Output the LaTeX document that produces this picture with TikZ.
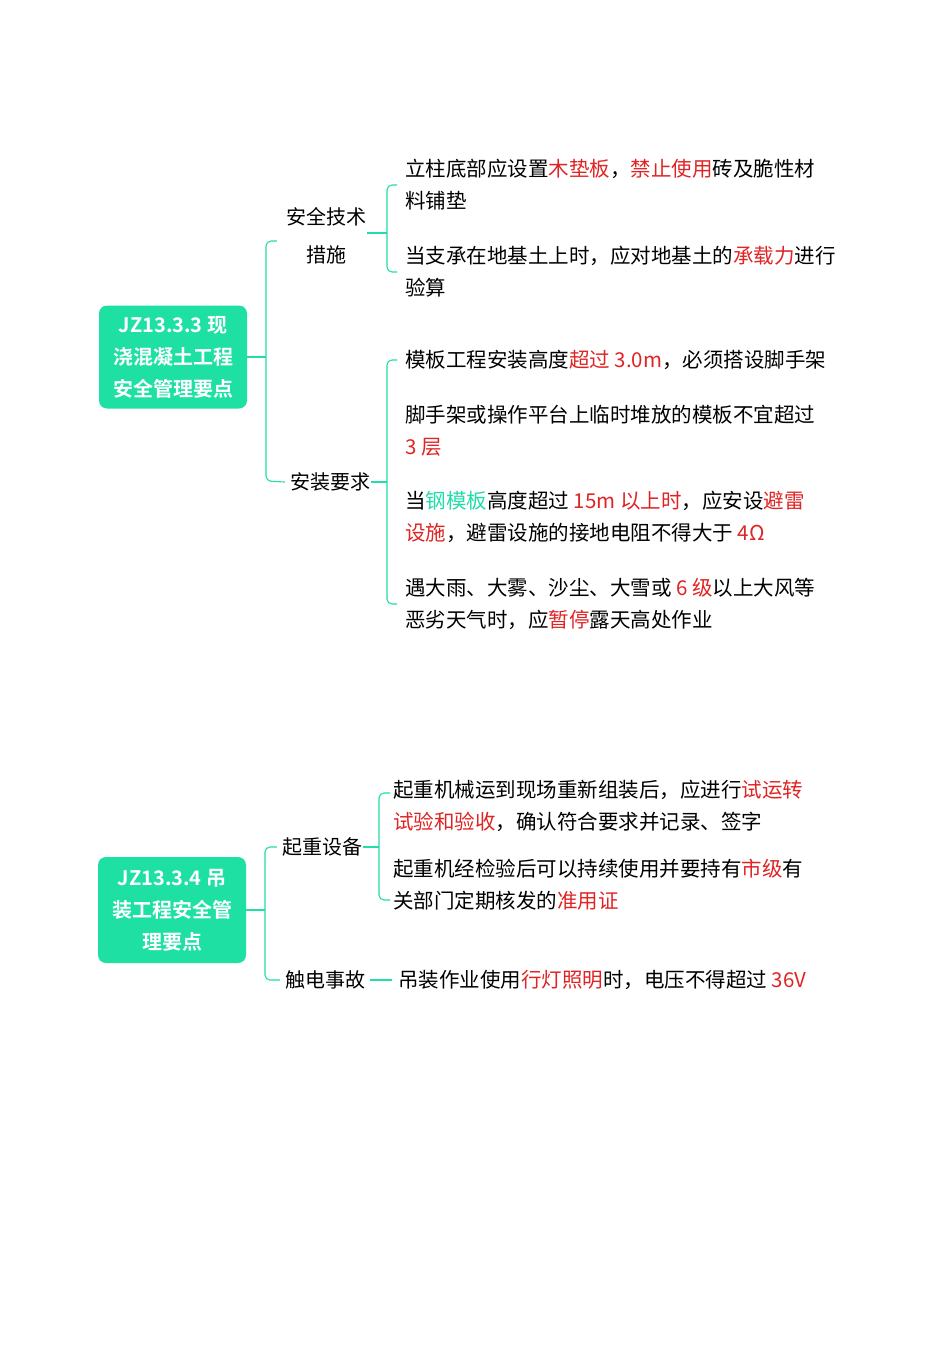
\documentclass[tikz,border=0pt]{standalone}
\usepackage{fontspec}
\setmainfont{Noto Sans CJK SC}
\newfontfamily\bfcjk{Noto Sans CJK SC Bold}
\definecolor{hred}{HTML}{E02424}
\definecolor{teal}{HTML}{22DDA8}
\definecolor{boxg}{HTML}{1EE0A3}
\newcommand\hl[1]{\textcolor{hred}{#1}}
\newcommand\tl[1]{\textcolor{teal}{#1}}
\begin{document}
\begin{tikzpicture}[x=1pt,y=-1pt,
  rootbox/.style={fill=boxg,rounded corners=8,text=white,font=\bfcjk\fontsize{20}{32}\selectfont,align=center,minimum width=148,inner sep=2},
  lab/.style={font=\fontsize{20}{38}\selectfont,align=center,inner sep=1},
  leaf/.style={anchor=west,font=\fontsize{20.5}{32}\selectfont,align=left,inner sep=0},
  br/.style={draw=teal,line width=1.1,rounded corners=5}]
\useasboundingbox[fill=white] (0,0) rectangle (950,1365);
% tree 1
\node[rootbox,minimum height=103] (r1) at (173,357) {JZ13.3.3 现\\浇混凝土工程\\安全管理要点};
\node[lab] (a1) at (326,236) {安全技术\\措施};
\node[lab] (a2) at (330,482) {安装要求};
\coordinate (j1) at (266,0);
\draw[br] (r1.east) -- (r1.east -| j1);
\draw[br] ([xshift=-8]a1.west|-0,241) -- (j1|-0,241) -- (j1|-0,481) -- ([xshift=-4]a2.west);
\node[leaf] (l1) at (405,185) {立柱底部应设置\hl{木垫板}，\hl{禁止使用}砖及脆性材\\料铺垫};
\node[leaf] (l2) at (405,272) {当支承在地基土上时，应对地基土的\hl{承载力}进行\\验算};
\node[leaf] (l3) at (405,360) {模板工程安装高度\hl{超过 3.0m}，必须搭设脚手架};
\node[leaf] (l4) at (405,431) {脚手架或操作平台上临时堆放的模板不宜超过\\\hl{3 层}};
\node[leaf] (l5) at (405,517) {当\tl{钢模板}高度超过 \hl{15m 以上时}，应安设\hl{避雷}\\\hl{设施}，避雷设施的接地电阻不得大于 \hl{4Ω}};
\node[leaf] (l6) at (405,604) {遇大雨、大雾、沙尘、大雪或 \hl{6 级}以上大风等\\恶劣天气时，应\hl{暂停}露天高处作业};
\coordinate (k1) at (387,0);
\draw[br] (a1.east|-0,233) -- (k1|-0,233);
\draw[br] ([xshift=-8]l1.west) -- (k1|-l1.west) -- (k1|-l2.west) -- ([xshift=-8]l2.west);
\draw[br] (a2.east) -- (k1|-a2.east);
\draw[br] ([xshift=-8]l3.west) -- (k1|-l3.west) -- (k1|-l6.west) -- ([xshift=-8]l6.west);
% tree 2
\node[rootbox,minimum height=106] (r2) at (172,910) {JZ13.3.4 吊\\装工程安全管\\理要点};
\node[lab] (b1) at (322,847) {起重设备};
\node[lab] (b2) at (325,980) {触电事故};
\coordinate (j2) at (265,0);
\draw[br] (r2.east) -- (r2.east -| j2);
\draw[br] ([xshift=-4]b1.west) -- (j2|-b1.west) -- (j2|-b2.west) -- ([xshift=-4]b2.west);
\node[leaf] (m1) at (393,806) {起重机械运到现场重新组装后，应进行\hl{试运转}\\\hl{试验和验收}，确认符合要求并记录、签字};
\node[leaf] (m2) at (393,885) {起重机经检验后可以持续使用并要持有\hl{市级}有\\关部门定期核发的\hl{准用证}};
\node[leaf] (m3) at (398,980) {吊装作业使用\hl{行灯照明}时，电压不得超过 \hl{36V}};
\coordinate (k2) at (379,0);
\draw[br] (b1.east) -- (k2|-b1.east);
\draw[br] ([xshift=-3]m1.west|-0,793) -- (k2|-0,793) -- (k2|-0,900) -- ([xshift=-3]m2.west|-0,900);
\draw[br] ([xshift=4]b2.east) -- ([xshift=-6]m3.west);
\end{tikzpicture}
\end{document}
